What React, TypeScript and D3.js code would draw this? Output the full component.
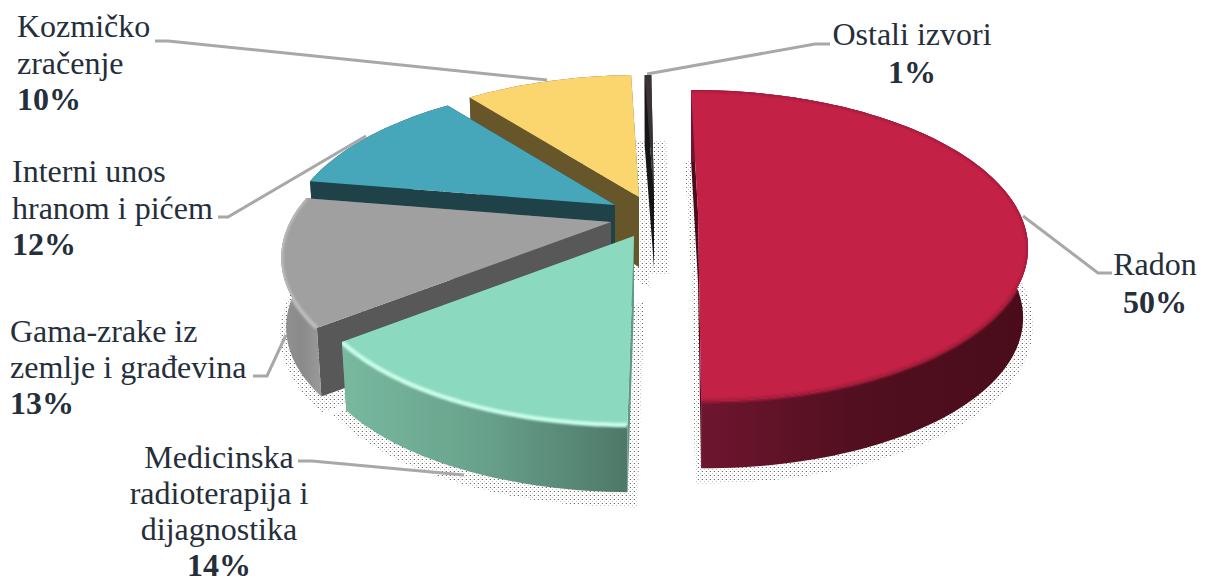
import React from "react";
import * as d3 from "d3";

// Data
const categories = ["Radon", "Medicinska radioterapija i dijagnostika", "Gama-zrake iz zemlje i građevina", "Interni unos hranom i pićem", "Kozmičko zračenje", "Ostali izvori"];
const percentLabels = [50, 14, 13, 12, 10, 1];
// shares of the circle as they are drawn in the picture
const drawnShares = [50.3, 14.2, 13.3, 11.7, 10.1, 0.4];

// Style
const topColors = ["#C32146", "#8BD9BE", "#A0A0A0", "#47A7BA", "#FBD56E", "#3A3434"];
const radialWall = ["#4A0C1A", "#5F9A85", "#585858", "#1F4249", "#68562B", "#161616"];
const wallLeft = ["#701630", "#78B9A0", "#929292", "#1F4249", "#68562B", "#161616"];
const wallMid = ["#510F1F", "#68A18B", "#8A8A8A", "#1F4249", "#68562B", "#161616"];
const wallRight = ["#4A0C1A", "#4E7868", "#9A9A9A", "#1F4249", "#68562B", "#161616"];
const rimColors = ["#A31B3A", "#C8FDEB", "#BDBDBD", "#47A7BA", "#FBD56E", "#3A3434"];
const rimWidths = [3.5, 4.5, 4, 0, 0, 0];
const shiftX = [48, -16, -39, -35, -11, 4];
const shiftY = [0, 24, 10, -7, -15, -15];

// Layout
const W = 1207, H = 581;
const CX = 650, CY = 212, RX = 321, RY = 148.3, K = 0.2155, DEPTH = 70, BOTTOM_SCALE = 0.985, CONVERGE = 0.0008;
const rad = (d: number) => (d * Math.PI) / 180;
const ink = "#252E3B";
const FONT = "'Liberation Serif', 'Times New Roman', serif";
const FS = 32;

const labelLines = [["Radon"], ["Medicinska", "radioterapija i", "dijagnostika"], ["Gama-zrake iz", "zemlje i građevina"], ["Interni unos", "hranom i pićem"], ["Kozmičko", "zračenje"], ["Ostali izvori"]];
const labelX = [1155, 219, 10, 12, 17, 912];
const labelY = [275, 468, 342, 182, 37, 45];
const labelAnchor = ["middle", "middle", "start", "start", "start", "middle"];
const lineGaps = [38, 36, 36, 36.5, 36.5, 38];
const leaders = [
  [[1112, 273], [1098, 273], [1023, 216]],
  [[298, 461], [312, 461], [464, 475]],
  [[253, 376], [267, 376], [286, 335]],
  [[218, 217], [228, 217], [366, 136]],
  [[155, 41], [168, 41], [547, 80]],
  [[830, 44], [815, 44], [647, 74]],
];

const project = (theta: number, r = 1) => {
  const w = 1 + K * r * Math.cos(theta);
  return [(RX * r * Math.sin(theta)) / w, (-RY * r * Math.cos(theta)) / w] as [number, number];
};

const line = d3.line<[number, number]>().x((d) => d[0]).y((d) => d[1]);
const leaderLine = d3.line<number[]>().x((d) => d[0]).y((d) => d[1]);

const pie = d3.pie<number>().sort(null).value((d) => d).startAngle(rad(-0.5)).endAngle(rad(359.5));
const arcs = pie(drawnShares);

const sliceGeom = arcs.map((a, i) => {
  const ax = CX + shiftX[i], ay = CY + shiftY[i];
  const n = Math.max(4, Math.ceil((a.endAngle - a.startAngle) / rad(1.5)));
  const thetas = d3.range(n + 1).map((j) => a.startAngle + ((a.endAngle - a.startAngle) * j) / n);
  const top = (t: number): [number, number] => {
    const p = project(t);
    return [ax + p[0] + shiftX[i] * CONVERGE * p[1], ay + p[1]];
  };
  const bot = (t: number): [number, number] => {
    const p = project(t);
    return [ax + (p[0] + shiftX[i] * CONVERGE * p[1]) * BOTTOM_SCALE, ay + p[1] * BOTTOM_SCALE + DEPTH];
  };
  const apexT: [number, number] = [ax, ay];
  const apexB: [number, number] = [ax, ay + DEPTH];
  const topRim = thetas.map((t) => top(t));
  const botRim = thetas.map((t) => bot(t));
  return {
    i,
    topFace: line([apexT, ...topRim])! + "Z",
    rimPath: line(topRim)!,
    outerWall: line([...topRim, ...[...botRim].reverse()])! + "Z",
    wallA: line([apexT, top(a.startAngle), bot(a.startAngle), apexB])! + "Z",
    wallB: line([apexT, top(a.endAngle), bot(a.endAngle), apexB])! + "Z",
    bottomFace: line([apexB, ...botRim])! + "Z",
  };
});

export default function App() {
  const backToFront = [...sliceGeom].reverse();
  return (
    <svg width={W} height={H} viewBox={`0 0 ${W} ${H}`} style={{ position: "absolute", left: 0, top: 0, background: "#fff" }}>
      <defs>
        <pattern id="stipple" width="4" height="4" patternUnits="userSpaceOnUse">
          <rect x="0" y="0" width="1" height="1" fill="#4a4a4a" />
          <rect x="2" y="2" width="1" height="1" fill="#b4b4b4" />
          <rect x="3" y="0" width="1" height="1" fill="#d8d8d8" />
        </pattern>
        <filter id="soft" x="-10%" y="-10%" width="120%" height="120%">
          <feGaussianBlur stdDeviation="1.3" />
        </filter>
        {sliceGeom.map((s) => (
          <linearGradient key={s.i} id={`wall${s.i}`} x1="0" x2="1" y1="0" y2="0">
            <stop offset="0" stopColor={wallLeft[s.i]} />
            <stop offset="0.5" stopColor={wallMid[s.i]} />
            <stop offset="1" stopColor={wallRight[s.i]} />
          </linearGradient>
        ))}
        {sliceGeom.map((s) => (
          <clipPath key={s.i} id={`clip${s.i}`}>
            <path d={s.topFace} />
            <path d={s.outerWall} />
          </clipPath>
        ))}
      </defs>

      {/* stippled shadow */}
      <g transform="translate(2,7)" opacity={0.8}>
        {backToFront.map((s) => (
          <path key={s.i} d={s.bottomFace} fill="url(#stipple)" stroke="url(#stipple)" strokeWidth={s.i === 5 ? 26 : 16} />
        ))}
      </g>

      {/* leader lines */}
      <g fill="none" stroke="#A8A8A8" strokeWidth={3}>
        {leaders.map((pts, i) => (
          <path key={i} d={leaderLine(pts)!} />
        ))}
      </g>

      {/* slices, far ones first */}
      {backToFront.map((s) => (
        <g key={s.i}>
          <path d={s.wallA} fill={radialWall[s.i]} />
          <path d={s.wallB} fill={radialWall[s.i]} />
          <path d={s.outerWall} fill={`url(#wall${s.i})`} />
          <path d={s.topFace} fill={topColors[s.i]} />
          {rimWidths[s.i] > 0 && (
            <g clipPath={`url(#clip${s.i})`}>
              <path d={s.rimPath} fill="none" stroke={rimColors[s.i]} strokeWidth={rimWidths[s.i]} filter="url(#soft)" />
            </g>
          )}
        </g>
      ))}

      {/* labels */}
      <g fontFamily={FONT} fontSize={FS} fill={ink}>
        {categories.map((c, i) => (
          <text key={c} x={labelX[i]} y={labelY[i]} textAnchor={labelAnchor[i]}>
            {labelLines[i].map((t, j) => (
              <tspan key={t} x={labelX[i]} y={labelY[i] + j * lineGaps[i]}>{t}</tspan>
            ))}
            <tspan x={labelX[i]} y={labelY[i] + labelLines[i].length * lineGaps[i]} fontWeight="bold">{percentLabels[i]}%</tspan>
          </text>
        ))}
      </g>
    </svg>
  );
}
